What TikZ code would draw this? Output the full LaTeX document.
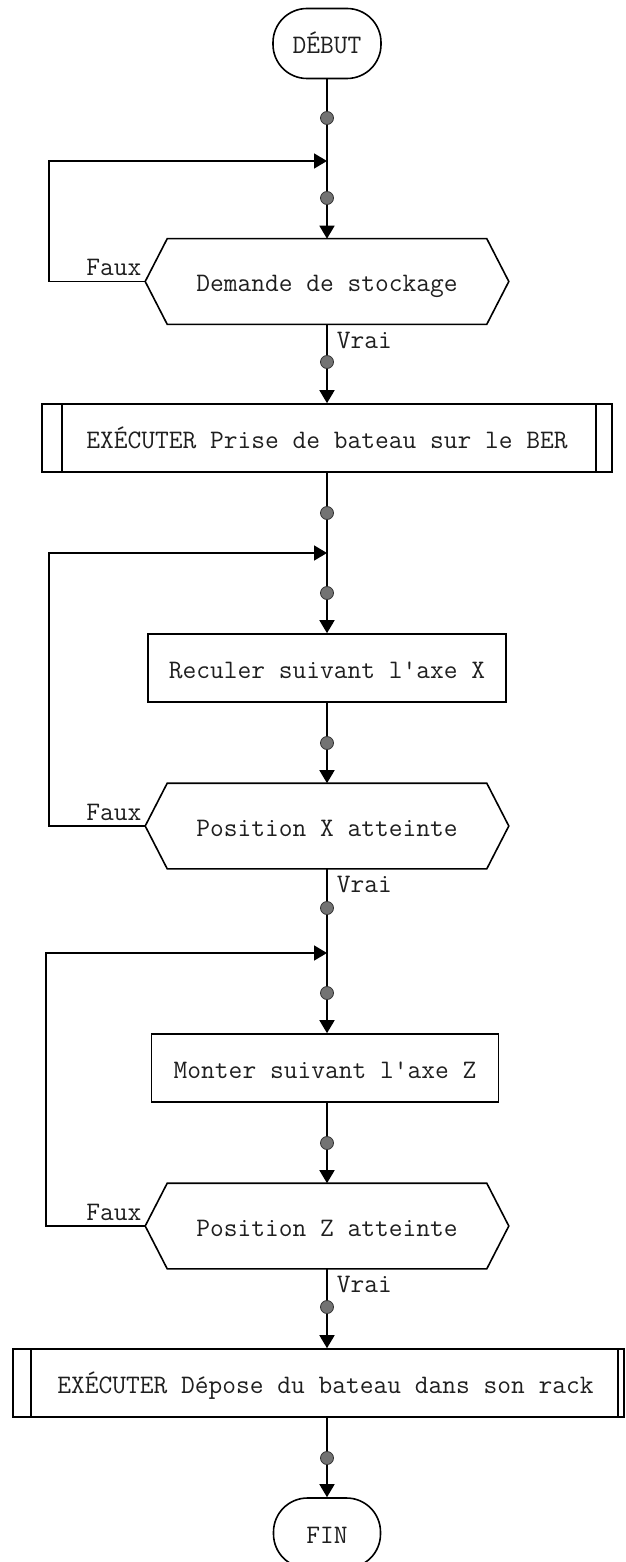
\documentclass[tikz,border=0pt]{standalone}
\usepackage{fontspec}
\usetikzlibrary{arrows.meta,calc}
\tikzset{
  chart/.style={x=1pt,y=-1pt,line width=1.6pt,
    font=\ttfamily\fontsize{26.7}{32}\selectfont,text=black!88},
  fcbox/.style={rectangle,inner sep=0pt,text height=20pt,text depth=0pt},
  stepbox/.style={fcbox,draw,minimum height=68pt},
  subbox/.style={fcbox,draw,minimum height=68pt},
  testbox/.style={fcbox,minimum height=84pt},
  term/.style={fcbox,draw,rounded corners=34pt,minimum width=108pt,minimum height=70pt},
  flow/.style={-{Triangle[length=13pt,width=15pt]}},
  knot/.style={circle,fill=black!55,draw=black!80,line width=0.8pt,inner sep=0pt,minimum size=13pt},
  flag/.style={inner sep=0pt}
}
\begin{document}
\begin{tikzpicture}[chart]
\useasboundingbox (0,0) rectangle (625,1562);
\fill[white] (0,0) rectangle (625,1562);

% blocks of the flowchart
\node[term] (debut) at (327,43.5) {DÉBUT};
\node[testbox,minimum width=318pt] (c1) at (327,281.5) {Demande de stockage};
\node[subbox,minimum width=570pt] (b1) at (327,438) {EXÉCUTER Prise de bateau sur le BER};
\node[stepbox,minimum width=358pt] (s1) at (327,668) {Reculer suivant l'axe X};
\node[testbox,minimum width=318pt] (c2) at (327,826) {Position X atteinte};
\node[stepbox,minimum width=347pt] (s2) at (325,1068) {Monter suivant l'axe Z};
\node[testbox,minimum width=318pt] (c3) at (327,1226) {Position Z atteinte};
\node[subbox,minimum width=611pt] (b2) at (318.5,1383) {\hspace*{14pt}EXÉCUTER Dépose du bateau dans son rack};
\node[term,minimum width=107pt] (fin) at (327,1533) {FIN};

% hexagonal outline of the tests
\foreach \n in {c1,c2,c3}
  \draw (\n.north west) -- (\n.north east) -- ($(\n.east)+(22,0)$)
        -- (\n.south east) -- (\n.south west) -- ($(\n.west)+(-22,0)$) -- cycle;

% double side bars of the sub-program calls
\draw ($(b1.north west)+(21,0)$) -- ($(b1.south west)+(21,0)$)
      ($(b1.north east)+(-17,0)$) -- ($(b1.south east)+(-17,0)$);
\draw ($(b2.north west)+(19,0)$) -- ($(b2.south west)+(19,0)$)
      ($(b2.north east)+(-7,0)$) -- ($(b2.south east)+(-7,0)$);

% return points of the loops
\coordinate (j1) at (327,161);
\coordinate (j2) at (327,553);
\coordinate (j3) at (327,953);
\coordinate (t1) at ($(c1.west)+(-22,0)$);
\coordinate (t2) at ($(c2.west)+(-22,0)$);
\coordinate (t3) at ($(c3.west)+(-22,0)$);

% main flow
\draw[flow] (debut.south) -- (c1.north);
\draw[flow] (c1.south) -- (b1.north);
\draw[flow] (b1.south) -- (s1.north);
\draw[flow] (s1.south) -- (c2.north);
\draw[flow] (c2.south) -- (s2.north -| c2.south);
\draw[flow] (s2.south -| c3.north) -- (c3.north);
\draw[flow] (c3.south) -- (c3.south |- b2.north);
\draw[flow] (b2.south -| fin.north) -- (fin.north);

% loops on the "Faux" branches
\draw[flow] (t1) -- ++(-96,0) |- (j1);
\draw[flow] (t2) -- ++(-96,0) |- (j2);
\draw[flow] (t3) -- ++(-99,0) |- (j3);

% connection points
\foreach \y [count=\i] in {118,198,362,513,593,743,908,993,1143,1307,1458}
  \node[knot] (k\i) at (327,\y) {};

% branch labels
\node[flag,anchor=base east] (f1) at ($(t1)+(-3,-5.5)$) {Faux};
\node[flag,anchor=base east] (f2) at ($(t2)+(-3,-5.5)$) {Faux};
\node[flag,anchor=base east] (f3) at ($(t3)+(-3,-5.5)$) {Faux};
\node[flag,anchor=base west] (v1) at ($(c1.south)+(9,24)$) {Vrai};
\node[flag,anchor=base west] (v2) at ($(c2.south)+(9,24)$) {Vrai};
\node[flag,anchor=base west] (v3) at ($(c3.south)+(9,24)$) {Vrai};
\end{tikzpicture}
\end{document}
